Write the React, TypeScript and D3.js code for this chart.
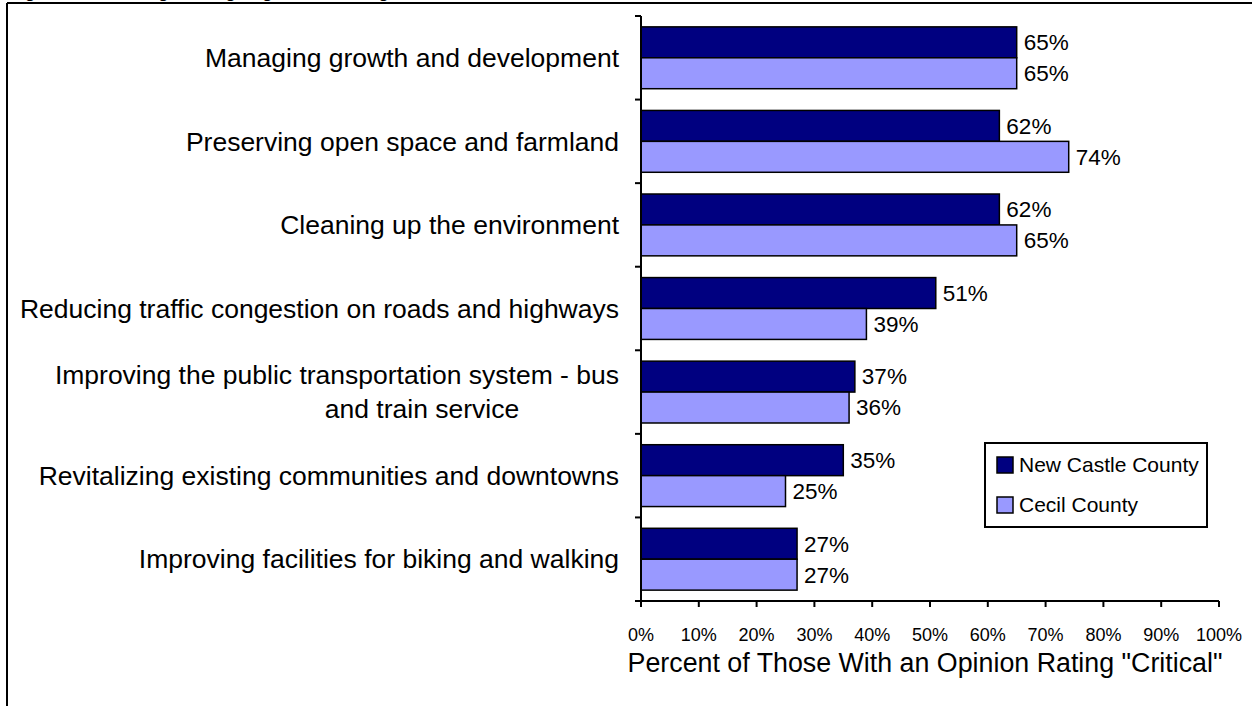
import React from "react";
import * as d3 from "d3";

const categories = [
  "Managing growth and development",
  "Preserving open space and farmland",
  "Cleaning up the environment",
  "Reducing traffic congestion on roads and highways",
  "Improving the public transportation system - bus\nand train service",
  "Revitalizing existing communities and downtowns",
  "Improving facilities for biking and walking",
];
const seriesNames = ["New Castle County", "Cecil County"];
const newCastle = [65, 62, 62, 51, 37, 35, 27];
const cecil = [65, 74, 65, 39, 36, 25, 27];
const xTicks = [0, 10, 20, 30, 40, 50, 60, 70, 80, 90, 100];
const axisTitle = 'Percent of Those With an Opinion Rating "Critical"';
const titleText = 'Figure 3: Percentage Rating Regional Planning Goals "Critical"';

const colors = ["#000080", "#9999FF"];
const FONT = "'Liberation Sans', Arial, Helvetica, sans-serif";

export default function App() {
  const W = 1252, H = 706;
  const x = d3.scaleLinear().domain([0, 100]).range([641, 1219]);
  const y = d3.scaleBand<string>().domain(categories).range([16, 601]).paddingInner(0.26).paddingOuter(0.13);
  const sub = d3.scaleBand<number>().domain([0, 1]).range([0, y.bandwidth()]);
  const series = [newCastle, cecil];
  const step = y.step();
  const bounds = d3.range(categories.length + 1).map((i) => 16 + i * step);
  const labelRight = 619;

  return (
    <svg width={W} height={H} style={{ position: "absolute", left: 0, top: 0, background: "#fff" }} fontFamily={FONT}>
      <rect x={0} y={0} width={W} height={H} fill="#fff" />
      {/* title, cut off at the top edge as in the reference */}
      <text x={10} y={-2.5} fontSize={17} fontWeight="bold" fill="#000">{titleText}</text>
      {/* frame */}
      <line x1={7} y1={3} x2={W} y2={3} stroke="#000" strokeWidth={2} />
      <line x1={7} y1={3} x2={7} y2={H} stroke="#000" strokeWidth={2} />

      {/* bars */}
      {categories.map((c, i) => (
        <g key={c}>
          {series.map((s, k) => (
            <rect
              key={k}
              x={x(0)}
              y={(y(c) as number) + (sub(k) as number)}
              width={x(s[i]) - x(0)}
              height={sub.bandwidth()}
              fill={colors[k]}
              stroke="#000"
              strokeWidth={1.5}
            />
          ))}
          {series.map((s, k) => (
            <text
              key={"l" + k}
              x={x(s[i]) + 7}
              y={(y(c) as number) + (sub(k) as number) + sub.bandwidth() / 2}
              dy="0.35em"
              fontSize={22.5}
              fill="#000"
            >
              {s[i]}%
            </text>
          ))}
          {(() => {
            const lines = c.split("\n");
            const cy = (y(c) as number) + y.bandwidth() / 2;
            const lh = 34;
            return lines.map((ln, j) => {
              const yy = cy + (j - (lines.length - 1) / 2) * lh;
              return (
                <text
                  key={"c" + j}
                  x={j === 0 ? labelRight : labelRight - 197}
                  y={yy}
                  dy="0.35em"
                  fontSize={26.5}
                  textAnchor={j === 0 ? "end" : "middle"}
                  fill="#000"
                >
                  {ln}
                </text>
              );
            });
          })()}
        </g>
      ))}

      {/* y axis */}
      <line x1={x(0)} y1={16} x2={x(0)} y2={601} stroke="#000" strokeWidth={2} />
      {bounds.map((b, i) => (
        <line key={"yt" + i} x1={x(0) - 6} y1={b} x2={x(0)} y2={b} stroke="#000" strokeWidth={2} />
      ))}
      {/* x axis */}
      <line x1={x(0) - 6} y1={601} x2={x(100)} y2={601} stroke="#000" strokeWidth={2} />
      {xTicks.map((t) => (
        <g key={"xt" + t}>
          <line x1={x(t)} y1={601} x2={x(t)} y2={607} stroke="#000" strokeWidth={2} />
          <text x={x(t)} y={635} dy="0.35em" fontSize={18} textAnchor="middle" fill="#000">
            {t}%
          </text>
        </g>
      ))}
      <text x={(x(0) + x(100)) / 2 - 5} y={663} dy="0.35em" fontSize={26.8} textAnchor="middle" fill="#000">
        {axisTitle}
      </text>

      {/* legend */}
      <rect x={985} y={443} width={222} height={84} fill="#fff" stroke="#000" strokeWidth={2} />
      {seriesNames.map((n, k) => (
        <g key={n}>
          <rect x={997} y={457 + k * 40} width={16} height={16} fill={colors[k]} stroke="#000" strokeWidth={1.5} />
          <text x={1019} y={465 + k * 40} dy="0.35em" fontSize={21} fill="#000">
            {n}
          </text>
        </g>
      ))}
    </svg>
  );
}
